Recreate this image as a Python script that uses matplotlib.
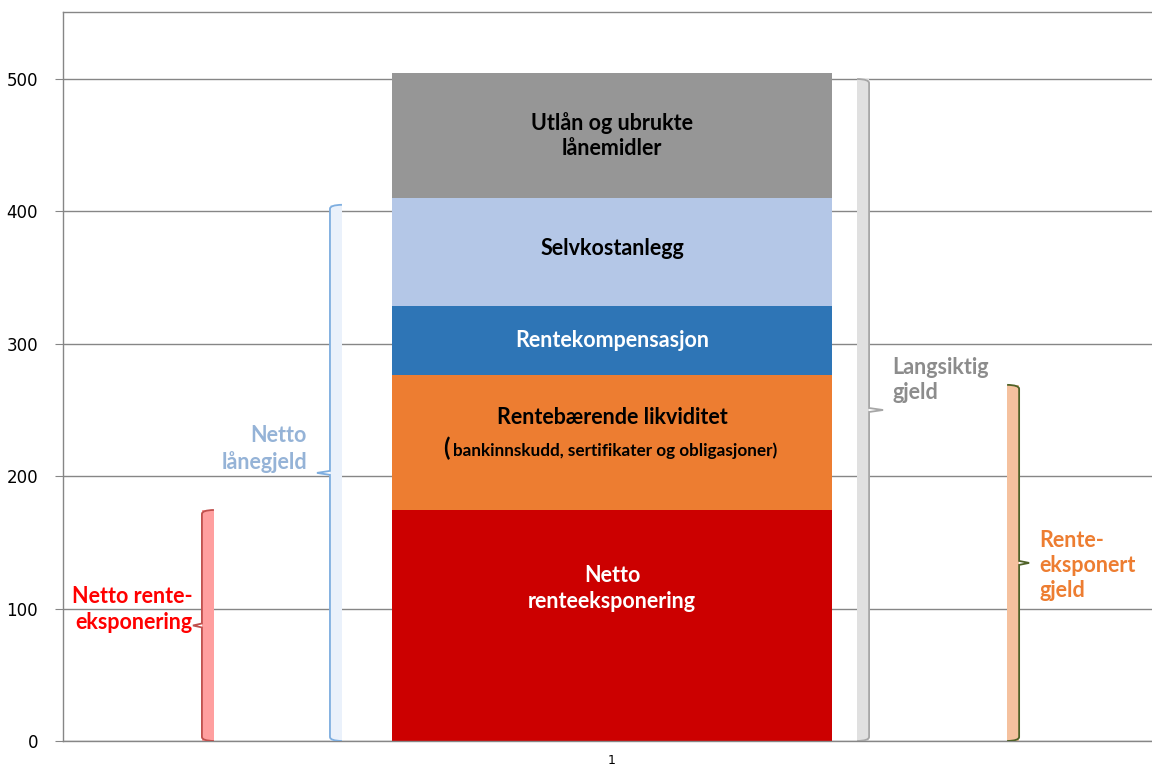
import matplotlib
matplotlib.use("Agg")
import matplotlib.pyplot as plt
from matplotlib.path import Path
from matplotlib.patches import PathPatch, Rectangle

# ---- data ----
segments = ["Netto\nrenteeksponering",
            "Rentebærende likviditet",
            "Rentekompensasjon",
            "Selvkostanlegg",
            "Utlån og ubrukte\nlånemidler"]
seg_values = [174.5, 102.0, 52.0, 81.5, 94.5]
seg_colors = ["#CC0000", "#ED7D31", "#2E75B6", "#B4C7E7", "#969696"]
seg_text_colors = ["white", "black", "white", "black", "black"]
seg_text_offset = [28, 19, 0, 3, 0]
sub_label = "bankinnskudd, sertifikater og obligasjoner)"

brace_labels = ["Netto rente-\neksponering", "Netto\nlånegjeld", "Langsiktig\ngjeld", "Rente-\neksponert\ngjeld"]
brace_tops = [174.5, 405.0, 500.0, 269.0]
brace_x = [-0.932, -0.641, 0.557, 0.898]     # left edge of each brace, in bar-width units relative to bar centre
brace_side = ["left", "left", "right", "right"]
brace_fill = ["#FF9F9F", "#EAF1FB", "#E0E0E0", "#F5C19E"]
brace_edge = ["#C0504D", "#7EAEE0", "#A6A6A6", "#4F6228"]
brace_text_color = ["#FF0000", "#95B3D7", "#8C8C8C", "#ED7D31"]
brace_text_offset = [12, 18, 22.6, -2]
brace_tip_px = [9, 13, 14, 10]
brace_gap_px = [0, 10, 9, 10]

yticks = [0, 100, 200, 300, 400, 500]
xtick_labels = ["1"]

plt.rcParams['font.family'] = ['Lato', 'DejaVu Sans']
FS = 15.5
LS = 1.25
PX = 1 / 440  # one pixel in x data units

fig = plt.figure(figsize=(11.52, 7.67), dpi=100)
ax = fig.add_axes([63/1152, 1-741/767, 1089/1152, 729/767])

# bar at x=0, width 1 ; xlim matched to pixels (440 px per unit)
ax.set_xlim(-(612-63)/440, (1152-612)/440)
ax.set_ylim(0, 550.6)

bottom = 0
for lab, v, c, tc, off in zip(segments, seg_values, seg_colors, seg_text_colors, seg_text_offset):
    ax.bar(0, v, width=1.0, bottom=bottom, color=c, zorder=2)
    mid = bottom + v / 2
    if lab.startswith("Rentebærende"):
        ax.text(0, mid + off, lab, ha="center", va="center", fontsize=FS, fontweight="bold", color=tc, zorder=3)
        ax.text(-0.377, mid - 4.5, "(", ha="center", va="center", fontsize=17, fontweight="bold", color=tc, zorder=3)
        ax.text(0.008, mid - 6, sub_label, ha="center", va="center", fontsize=12.3, fontweight="bold",
                color=tc, zorder=3)
    else:
        ax.text(0, mid + off, lab, ha="center", va="center", fontsize=FS,
                fontweight="bold", color=tc, linespacing=LS, zorder=3)
    bottom += v

# braces
w = 12 * PX
for lab, top, x0, side, fc, ec, tcol, off, tp, gp in zip(brace_labels, brace_tops, brace_x, brace_side,
                                                        brace_fill, brace_edge, brace_text_color,
                                                        brace_text_offset, brace_tip_px, brace_gap_px):
    ax.add_patch(Rectangle((x0, 0), w, top, facecolor=fc, edgecolor="none", zorder=2))
    mid = top / 2
    c = 3.0  # curl in data units (y)
    if side == "left":
        xe, xo, xt = x0, x0 + w, x0 - tp * PX
    else:
        xe, xo, xt = x0 + w, x0, x0 + w + tp * PX
    verts = [(xo, top), (xe, top - 0.2), (xe, top - c),
             (xe, mid + 1.5), (xt, mid), (xe, mid - 1.5),
             (xe, c), (xe, 0.2), (xo, 0)]
    codes = [Path.MOVETO, Path.CURVE3, Path.CURVE3,
             Path.LINETO, Path.LINETO, Path.LINETO,
             Path.LINETO, Path.CURVE3, Path.CURVE3]
    ax.add_patch(PathPatch(Path(verts, codes), facecolor="none", edgecolor=ec, lw=1.3, zorder=3))
    if side == "left":
        ax.text(xt - gp * PX, mid + off, lab, ha="right", va="center", fontsize=FS, fontweight="bold",
                color=tcol, linespacing=LS, zorder=3)
    else:
        ax.text(xt + gp * PX, mid + off, lab, ha="left", va="center",
                fontsize=FS, fontweight="bold", color=tcol, linespacing=LS, zorder=3)

# axes styling
ax.set_yticks(yticks)
ax.set_yticklabels([str(v) for v in yticks], fontsize=12, family="DejaVu Sans")
ax.set_xticks([0])
ax.set_xticklabels(xtick_labels, fontsize=9, family="DejaVu Sans")
ax.tick_params(axis="x", length=0, pad=9)
ax.tick_params(axis="y", length=6, color="#868686", pad=12)
ax.yaxis.grid(True, color="#868686", lw=1.0, zorder=0)
ax.set_axisbelow(True)
for s in ["left", "bottom", "top"]:
    ax.spines[s].set_color("#868686")
    ax.spines[s].set_linewidth(1.0)
ax.spines["right"].set_visible(False)

fig.savefig("out.png", dpi=100)
